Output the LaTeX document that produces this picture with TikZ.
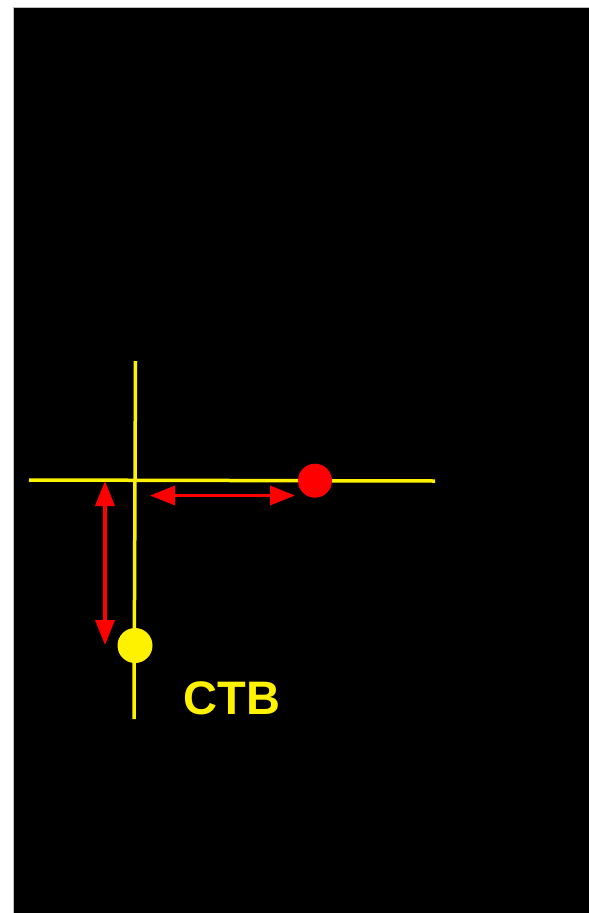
\documentclass[tikz,border=0pt]{standalone}
\usepackage{fontspec}
\setmainfont{Liberation Sans}
\usetikzlibrary{arrows.meta}
\begin{document}
\begin{tikzpicture}[x=1pt,y=-1pt,
  yline/.style={draw=yellow, line width=3.5pt},
  rarrow/.style={draw=red, fill=red, line width=3.5pt, {Triangle[length=25pt,width=19pt]}-{Triangle[length=25pt,width=19pt]}},
  dot/.style={circle, inner sep=0pt, minimum size=#1}]
\useasboundingbox (0,0) rectangle (589,913);
\fill[white] (0,0) rectangle (589,913);
\path[fill=black, draw=black!25, line width=1pt] (13.5,7.5) rectangle (595,920);
\coordinate (hl) at (29,480);
\coordinate (hr) at (435,481);
\coordinate (vt) at (135.5,361);
\coordinate (vb) at (134,719);
\draw[yline] (hl) -- (hr);
\draw[yline] (vt) -- (vb);
\node[dot=34pt, fill=red] (rdot) at (315,480.7) {};
\node[dot=35pt, fill=yellow] (ydot) at (135,645.5) {};
\coordinate (ha) at (150,495.5);
\coordinate (hb) at (295,495.5);
\coordinate (va) at (105,481);
\coordinate (vbb) at (105,645);
\draw[rarrow] (ha) -- (hb);
\draw[rarrow] (va) -- (vbb);
\node[text=yellow, font=\bfseries\fontsize{47}{47}\selectfont, inner sep=0pt] (ctb) at (232,698) {CTB};
\end{tikzpicture}
\end{document}
